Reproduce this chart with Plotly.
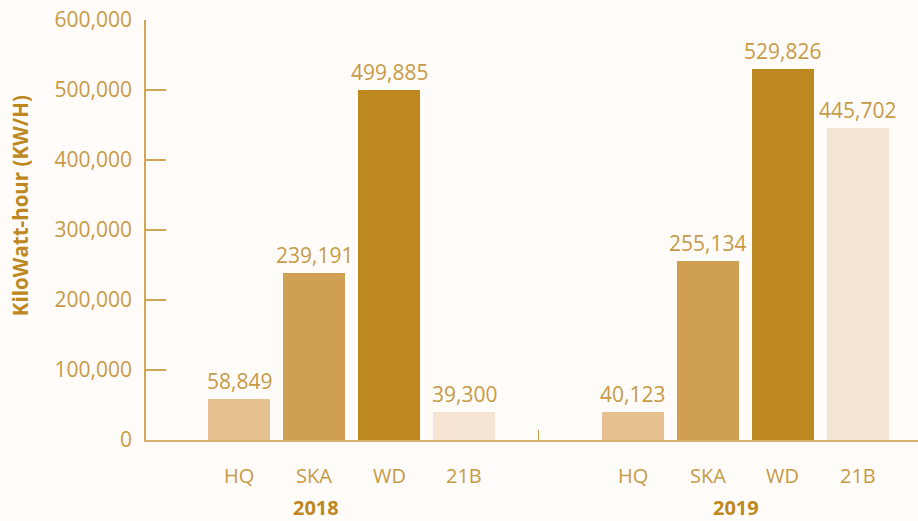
import plotly.graph_objects as go

categories = ["HQ", "SKA", "WD", "21B"]
years = ["2018", "2019"]
values_2018 = [58849, 239191, 499885, 39300]
values_2019 = [40123, 255134, 529826, 445702]
bar_colors = ["#e6c190", "#cfa051", "#bd8820", "#f7e5d4"]
y_ticks = [0, 100000, 200000, 300000, 400000, 500000, 600000]

txt = "#c79a46"
dark = "#bd8820"
font_family = "Open Sans, Noto Sans, sans-serif"

pos_2018 = [0, 1, 2, 3]
pos_2019 = [5.25, 6.25, 7.25, 8.25]
year_pos = [1.02, 6.62]

fig = go.Figure()
annotations = []
for pos, vals in [(pos_2018, values_2018), (pos_2019, values_2019)]:
    fig.add_trace(go.Bar(
        x=pos, y=vals, width=0.83,
        marker=dict(color=bar_colors, line=dict(width=0)),
        showlegend=False, hoverinfo="x+y",
    ))
    for p, v in zip(pos, vals):
        annotations.append(dict(x=p, y=v, xref="x", yref="y", yanchor="bottom", yshift=2,
                                text=f"{v:,}", showarrow=False,
                                font=dict(color=txt, size=21, family=font_family)))
    for p, c in zip(pos, categories):
        annotations.append(dict(x=p, y=0, xref="x", yref="y", yshift=-35,
                                text=c, showarrow=False,
                                font=dict(color=txt, size=20, family=font_family)))

for xp, yr in zip(year_pos, years):
    annotations.append(dict(x=xp, y=0, xref="x", yref="y", yshift=-67, borderpad=0,
                            text=f"<b>{yr}</b>", showarrow=False,
                            font=dict(color=dark, size=20, family=font_family)))

annotations.append(dict(x=-0.163, y=0.557, xref="paper", yref="paper", textangle=-90,
                        xanchor="center", yanchor="middle",
                        text="<b>KiloWatt-hour (KW/H)</b>", showarrow=False,
                        font=dict(color=dark, size=20.5, family=font_family)))

fig.update_layout(
    width=918, height=521,
    margin=dict(l=146, r=0, t=20, b=81),
    paper_bgcolor="#fffcfa", plot_bgcolor="#fffcfa",
    bargap=0,
    annotations=annotations,
    xaxis=dict(range=[-1.24, 9.05], showgrid=False, zeroline=False,
               showline=True, linecolor="#d9b474", linewidth=2,
               tickvals=[3.99], ticktext=[""], ticks="inside", ticklen=10,
               tickcolor="#c99a45", tickwidth=1),
    yaxis=dict(range=[0, 600000], tickvals=y_ticks,
               ticktext=[f"{v:,}" for v in y_ticks],
               showgrid=False, zeroline=False, showline=True,
               linecolor="#d2a655", linewidth=1.5,
               ticks="inside", ticklen=20, tickcolor="#d2a655", tickwidth=1.5,
               ticklabelstandoff=8,
               tickfont=dict(color=txt, size=21, family=font_family)),
)

fig.write_html("out.html", config={"displayModeBar": False},
               post_script="document.body.style.margin='0';document.body.style.background='#fffcfa';")
